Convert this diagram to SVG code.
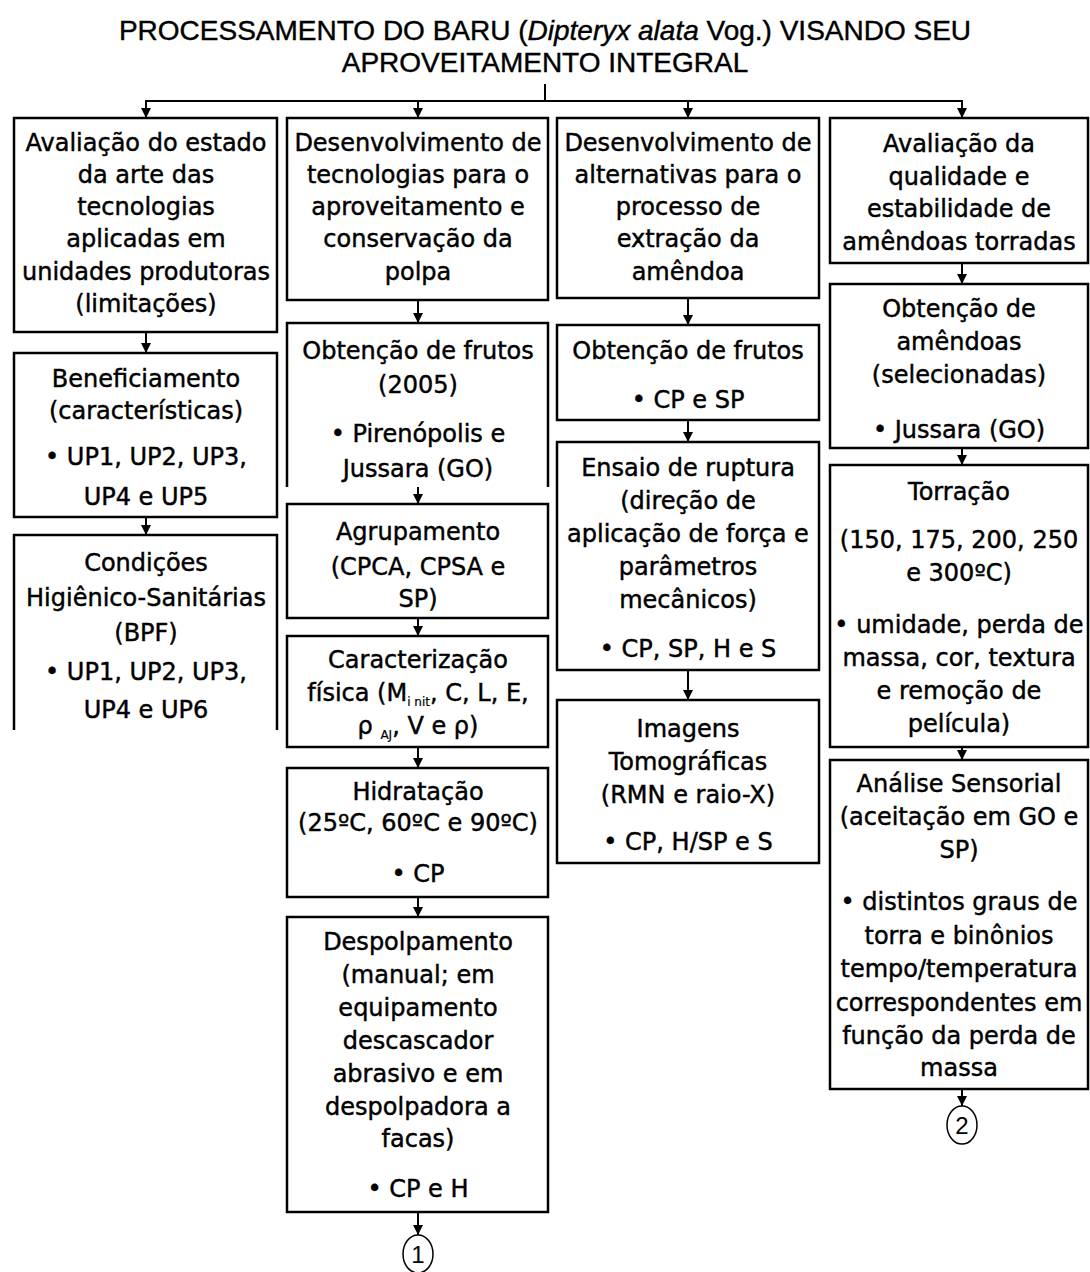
<svg xmlns="http://www.w3.org/2000/svg" width="1090" height="1272" viewBox="0 0 1090 1272">
<style>
.bg{fill:#fff}
.box{fill:#fff;stroke:#000;stroke-width:2.5}
.open{fill:none;stroke:#000;stroke-width:2.5}
.t{font-family:"DejaVu Sans","Liberation Sans",sans-serif;font-size:24px;text-anchor:middle;fill:#000;stroke:#000;stroke-width:0.45}
.title{font-family:"Liberation Sans",Arial,sans-serif;font-size:28px;text-anchor:middle;fill:#000;stroke:#000;stroke-width:0.4}
.sub{font-size:12px;stroke-width:0.2}
.ln{stroke:#000;stroke-width:2;fill:none}
.arr{stroke:#000;stroke-width:2;fill:none;marker-end:url(#ah)}
.circ{fill:#fff;stroke:#000;stroke-width:1.5}
.ct{font-family:"Liberation Sans",Arial,sans-serif;font-size:24px;text-anchor:middle;fill:#000}
</style>
<defs>
<marker id="ah" viewBox="0 0 10 10" refX="10" refY="5" markerWidth="10" markerHeight="10" markerUnits="userSpaceOnUse" orient="auto">
<path d="M0,0 L10,5 L0,10 z" fill="#000"/>
</marker>
</defs>
<rect class="bg" x="0" y="0" width="1090" height="1272"/>

<g id="title">
<text class="title" x="545" y="40">PROCESSAMENTO DO BARU (<tspan font-style="italic">Dipteryx alata</tspan> Vog.) VISANDO SEU</text>
<text class="title" x="545" y="72">APROVEITAMENTO INTEGRAL</text>
</g>

<g id="connectors">
<line class="ln" x1="545" y1="84" x2="545" y2="101"/>
<line class="ln" x1="146" y1="101" x2="962" y2="101"/>
<line class="arr" x1="146" y1="100" x2="146" y2="118"/>
<line class="arr" x1="418" y1="100" x2="418" y2="118"/>
<line class="arr" x1="688" y1="100" x2="688" y2="118"/>
<line class="arr" x1="962" y1="100" x2="962" y2="118"/>
<line class="arr" x1="146" y1="333" x2="146" y2="353"/>
<line class="arr" x1="146" y1="518" x2="146" y2="535"/>
<line class="arr" x1="418" y1="301" x2="418" y2="323"/>
<line class="arr" x1="418" y1="487" x2="418" y2="504"/>
<line class="arr" x1="418" y1="619" x2="418" y2="636"/>
<line class="arr" x1="418" y1="748" x2="418" y2="768"/>
<line class="arr" x1="418" y1="898" x2="418" y2="917"/>
<line class="arr" x1="418" y1="1213" x2="418" y2="1235"/>
<line class="arr" x1="688" y1="299" x2="688" y2="325"/>
<line class="arr" x1="688" y1="421" x2="688" y2="442"/>
<line class="arr" x1="688" y1="671" x2="688" y2="700"/>
<line class="arr" x1="962" y1="264" x2="962" y2="284"/>
<line class="arr" x1="962" y1="449" x2="962" y2="465"/>
<line class="arr" x1="962" y1="748" x2="962" y2="760"/>
<line class="arr" x1="962" y1="1090" x2="962" y2="1106"/>
</g>

<g id="n1a"><rect class="box" x="14" y="118" width="263" height="214"/>
<text class="t" x="146" y="151">Avaliação do estado</text>
<text class="t" x="146" y="183">da arte das</text>
<text class="t" x="146" y="215">tecnologias</text>
<text class="t" x="146" y="247">aplicadas em</text>
<text class="t" x="146" y="280">unidades produtoras</text>
<text class="t" x="146" y="312">(limitações)</text></g>

<g id="n1b"><rect class="box" x="14" y="353" width="263" height="164"/>
<text class="t" x="146" y="387">Beneficiamento</text>
<text class="t" x="146" y="419">(características)</text>
<text class="t" x="146" y="465">• UP1, UP2, UP3,</text>
<text class="t" x="146" y="505">UP4 e UP5</text></g>

<g id="n1c"><path class="open" d="M14,730 V535 H277 V730"/>
<text class="t" x="146" y="571">Condições</text>
<text class="t" x="146" y="606">Higiênico-Sanitárias</text>
<text class="t" x="146" y="641">(BPF)</text>
<text class="t" x="146" y="680">• UP1, UP2, UP3,</text>
<text class="t" x="146" y="718">UP4 e UP6</text></g>

<g id="n2a"><rect class="box" x="287" y="118" width="261" height="182"/>
<text class="t" x="418" y="151">Desenvolvimento de</text>
<text class="t" x="418" y="183">tecnologias para o</text>
<text class="t" x="418" y="215">aproveitamento e</text>
<text class="t" x="418" y="247">conservação da</text>
<text class="t" x="418" y="280">polpa</text></g>

<g id="n2b"><path class="open" d="M287,487 V323 H548 V487"/>
<text class="t" x="418" y="359">Obtenção de frutos</text>
<text class="t" x="418" y="393">(2005)</text>
<text class="t" x="418" y="442">• Pirenópolis e</text>
<text class="t" x="418" y="477">Jussara (GO)</text></g>

<g id="n2c"><rect class="box" x="287" y="504" width="261" height="114"/>
<text class="t" x="418" y="540">Agrupamento</text>
<text class="t" x="418" y="575">(CPCA, CPSA e</text>
<text class="t" x="418" y="607">SP)</text></g>

<g id="n2d"><rect class="box" x="287" y="636" width="261" height="111"/>
<text class="t" x="418" y="668">Caracterização</text>
<text class="t" x="418" y="701">física (M<tspan class="sub" dy="5">i nit</tspan><tspan dy="-5">, C, L, E,</tspan></text>
<text class="t" x="418" y="734">ρ <tspan class="sub" dy="5">AJ</tspan><tspan dy="-5">, V e ρ)</tspan></text></g>

<g id="n2e"><rect class="box" x="287" y="768" width="261" height="129"/>
<text class="t" x="418" y="800">Hidratação</text>
<text class="t" x="418" y="831">(25ºC, 60ºC e 90ºC)</text>
<text class="t" x="418" y="882">• CP</text></g>

<g id="n2f"><rect class="box" x="287" y="917" width="261" height="295"/>
<text class="t" x="418" y="950">Despolpamento</text>
<text class="t" x="418" y="983">(manual; em</text>
<text class="t" x="418" y="1016">equipamento</text>
<text class="t" x="418" y="1049">descascador</text>
<text class="t" x="418" y="1082">abrasivo e em</text>
<text class="t" x="418" y="1115">despolpadora a</text>
<text class="t" x="418" y="1147">facas)</text>
<text class="t" x="418" y="1197">• CP e H</text></g>

<g id="c1"><ellipse class="circ" cx="418" cy="1254" rx="15" ry="19"/>
<text class="ct" x="418" y="1263">1</text></g>

<g id="n3a"><rect class="box" x="557" y="118" width="262" height="180"/>
<text class="t" x="688" y="151">Desenvolvimento de</text>
<text class="t" x="688" y="183">alternativas para o</text>
<text class="t" x="688" y="215">processo de</text>
<text class="t" x="688" y="247">extração da</text>
<text class="t" x="688" y="280">amêndoa</text></g>

<g id="n3b"><rect class="box" x="557" y="325" width="262" height="95"/>
<text class="t" x="688" y="359">Obtenção de frutos</text>
<text class="t" x="688" y="408">• CP e SP</text></g>

<g id="n3c"><rect class="box" x="557" y="442" width="262" height="228"/>
<text class="t" x="688" y="476">Ensaio de ruptura</text>
<text class="t" x="688" y="509">(direção de</text>
<text class="t" x="688" y="542">aplicação de força e</text>
<text class="t" x="688" y="575">parâmetros</text>
<text class="t" x="688" y="608">mecânicos)</text>
<text class="t" x="688" y="657">• CP, SP, H e S</text></g>

<g id="n3d"><rect class="box" x="557" y="700" width="262" height="163"/>
<text class="t" x="688" y="737">Imagens</text>
<text class="t" x="688" y="770">Tomográficas</text>
<text class="t" x="688" y="803">(RMN e raio-X)</text>
<text class="t" x="688" y="850">• CP, H/SP e S</text></g>

<g id="n4a"><rect class="box" x="830" y="118" width="258" height="145"/>
<text class="t" x="959" y="152">Avaliação da</text>
<text class="t" x="959" y="185">qualidade e</text>
<text class="t" x="959" y="217">estabilidade de</text>
<text class="t" x="959" y="250">amêndoas torradas</text></g>

<g id="n4b"><rect class="box" x="830" y="284" width="258" height="164"/>
<text class="t" x="959" y="317">Obtenção de</text>
<text class="t" x="959" y="350">amêndoas</text>
<text class="t" x="959" y="383">(selecionadas)</text>
<text class="t" x="959" y="438">• Jussara (GO)</text></g>

<g id="n4c"><rect class="box" x="830" y="465" width="258" height="282"/>
<text class="t" x="959" y="500">Torração</text>
<text class="t" x="959" y="548">(150, 175, 200, 250</text>
<text class="t" x="959" y="581">e 300ºC)</text>
<text class="t" x="959" y="633">• umidade, perda de</text>
<text class="t" x="959" y="666">massa, cor, textura</text>
<text class="t" x="959" y="699">e remoção de</text>
<text class="t" x="959" y="732">película)</text></g>

<g id="n4d"><rect class="box" x="830" y="760" width="258" height="329"/>
<text class="t" x="959" y="792">Análise Sensorial</text>
<text class="t" x="959" y="825">(aceitação em GO e</text>
<text class="t" x="959" y="858">SP)</text>
<text class="t" x="959" y="910">• distintos graus de</text>
<text class="t" x="959" y="944">torra e binônios</text>
<text class="t" x="959" y="977">tempo/temperatura</text>
<text class="t" x="959" y="1011">correspondentes em</text>
<text class="t" x="959" y="1044">função da perda de</text>
<text class="t" x="959" y="1076">massa</text></g>

<g id="c2"><ellipse class="circ" cx="962" cy="1125" rx="15" ry="19"/>
<text class="ct" x="962" y="1134">2</text></g>
</svg>
